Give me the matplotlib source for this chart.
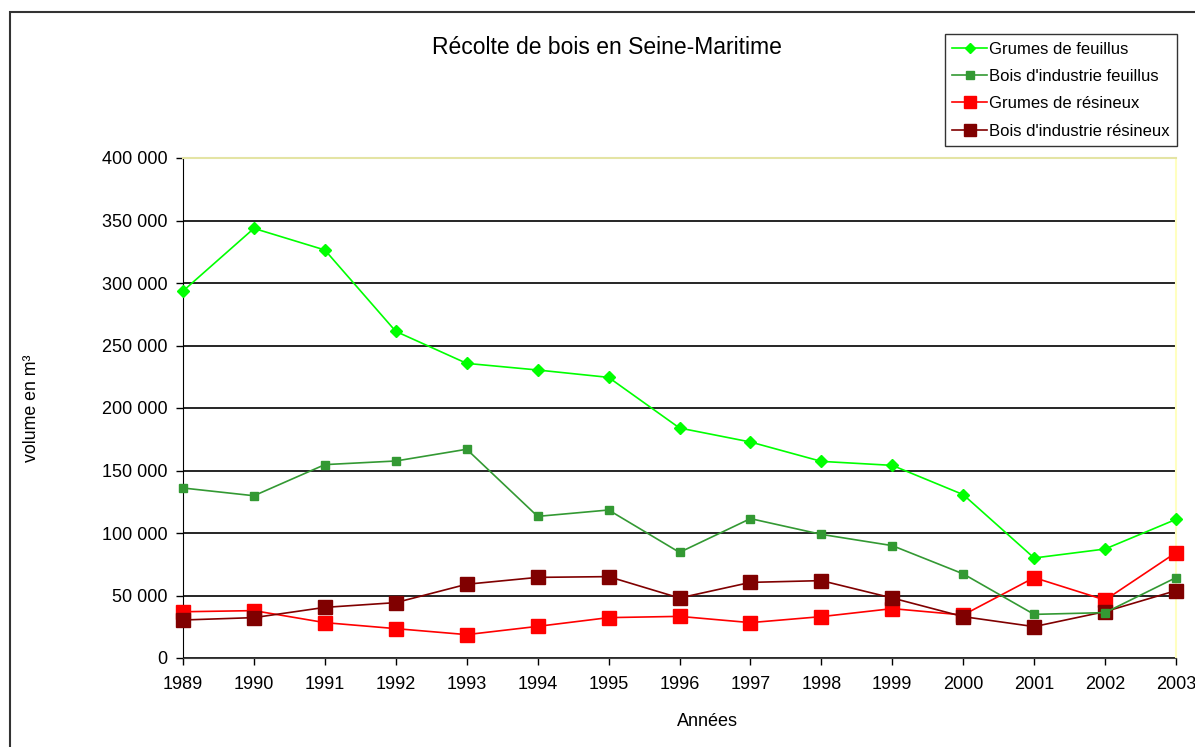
import matplotlib
matplotlib.use('Agg')
import matplotlib.pyplot as plt
from matplotlib.patches import Rectangle
import matplotlib.ticker as mticker

plt.rcParams['font.family'] = ['Liberation Sans', 'DejaVu Sans']

years = [1989, 1990, 1991, 1992, 1993, 1994, 1995, 1996, 1997, 1998,
         1999, 2000, 2001, 2002, 2003]

# volumes in m3
grumes_feuillus = [293600, 343700, 326400, 261300, 235700, 230400, 224500, 184000,
                   172800, 157300, 154100, 130700, 80000, 87200, 110900]
industrie_feuillus = [136000, 129800, 154700, 157600, 167000, 113300, 118400, 84500,
                      111500, 98900, 89900, 67300, 34900, 36300, 64300]
grumes_resineux = [37000, 37900, 28300, 23500, 18700, 25300, 32300, 33300,
                   28300, 33100, 39500, 34400, 64300, 46400, 84300]
industrie_resineux = [30400, 32300, 40500, 44300, 59000, 64500, 65100, 48000,
                      60500, 61900, 48000, 33100, 25100, 37100, 53900]

yticks = [0, 50000, 100000, 150000, 200000, 250000, 300000, 350000, 400000]

W, H = 1195, 747
fig = plt.figure(figsize=(W / 100, H / 100), dpi=100)
ax = fig.add_axes([183 / W, (H - 658) / H, (1176 - 183) / W, 500 / H])

x = list(range(len(years)))

ax.plot(x, grumes_feuillus, color='#00ff00', marker='D', markersize=6,
        linewidth=1.2, label='Grumes de feuillus', zorder=5, clip_on=False)
ax.plot(x, industrie_feuillus, color='#339933', marker='s', markersize=6,
        linewidth=1.2, label="Bois d'industrie feuillus", zorder=4, clip_on=False)
ax.plot(x, grumes_resineux, color='#ff0000', marker='s', markersize=10,
        linewidth=1.2, label='Grumes de résineux', zorder=3, clip_on=False)
ax.plot(x, industrie_resineux, color='#800000', marker='s', markersize=10,
        linewidth=1.2, label="Bois d'industrie résineux", zorder=3, clip_on=False)

ax.set_xlim(0, len(years) - 1)
ax.set_ylim(0, 400000)
ax.set_xticks(x)
ax.set_xticklabels([str(y) for y in years])
ax.set_yticks(yticks)
ax.yaxis.set_major_formatter(mticker.FuncFormatter(
    lambda v, p: f'{int(v):,}'.replace(',', ' ')))
ax.tick_params(axis='both', labelsize=13, length=5, width=1, color='black',
               direction='out', pad=6)
ax.tick_params(axis='x', pad=8)

ax.grid(axis='y', color='black', linewidth=1.2)
ax.set_axisbelow(True)

ax.spines['left'].set_color('black')
ax.spines['bottom'].set_color('#404040')
ax.spines['top'].set_color('#e4e4a4')
ax.spines['top'].set_linewidth(1.5)
ax.spines['right'].set_color('#ffffc0')
ax.spines['right'].set_linewidth(1.5)

fig.text(607 / W, 1 - 47 / H, 'Récolte de bois en Seine-Maritime',
         ha='center', va='center', fontsize=16.5)
fig.text(31 / W, 1 - 408 / H, 'volume en m³', rotation=90,
         ha='center', va='center', fontsize=12.8)
fig.text(707 / W, 1 - 721 / H, 'Années', ha='center', va='center', fontsize=13)

leg = ax.legend(loc='upper right', bbox_to_anchor=(1177 / W, 1 - 34 / H),
                bbox_transform=fig.transFigure, fontsize=12, frameon=True,
                fancybox=False, edgecolor='black', handlelength=2.1,
                handletextpad=0.1, borderpad=0.45, labelspacing=0.74,
                markerscale=0.85, borderaxespad=0)
leg.get_frame().set_linewidth(1.0)

# outer chart frame
fig.patches.append(Rectangle((10 / W, -0.1), 1.2, 1 - 12 / H + 0.1,
                             transform=fig.transFigure, fill=False,
                             edgecolor='#333333', linewidth=1.5))

plt.savefig('out.png', dpi=100)
plt.close()
